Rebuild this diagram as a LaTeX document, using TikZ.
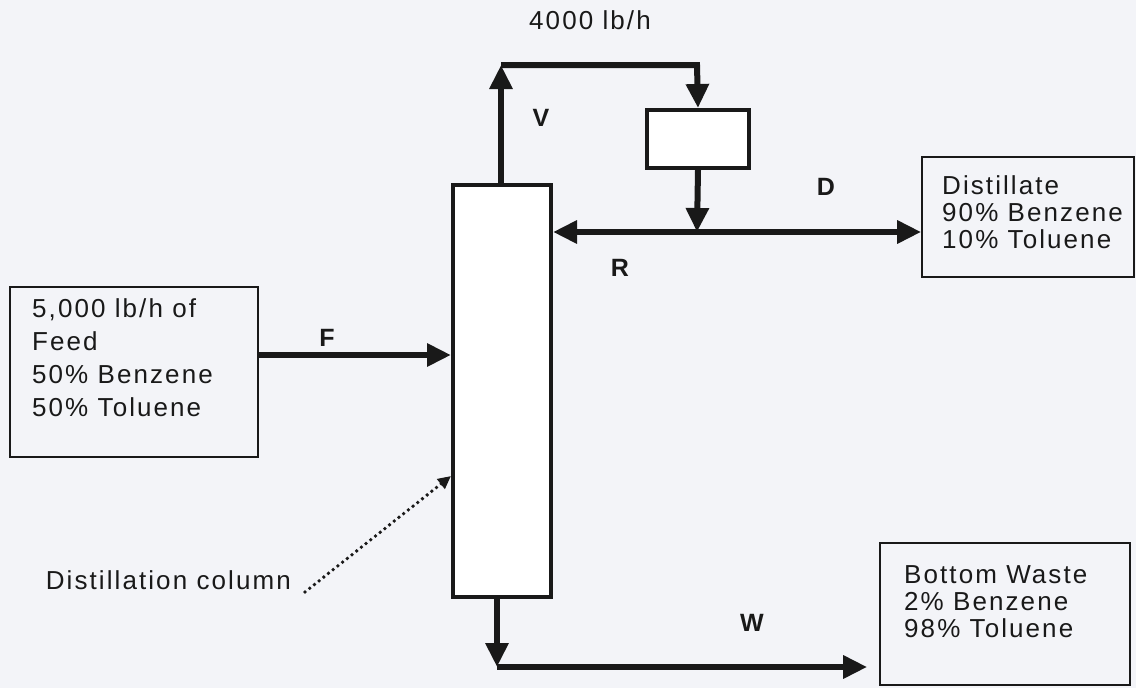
\documentclass[tikz,border=0pt]{standalone}
\usepackage{fontspec}
\setmainfont[LetterSpace=8]{Liberation Sans}
\usetikzlibrary{arrows.meta}
\definecolor{paper}{RGB}{243,244,248}
\definecolor{ink}{RGB}{25,25,25}
\tikzset{
  x=1pt,y=-1pt,
  flow/.style={draw=ink,line width=6pt,-{Triangle[length=24pt,width=22pt]}},
  unit/.style={draw=ink,line width=4pt,fill=white,inner sep=0pt},
  infobox/.style={draw=ink,line width=1.6pt,inner sep=0pt},
  txt/.style={text=ink,font=\fontsize{26}{27}\selectfont,align=left,inner sep=0pt},
  feedtxtstyle/.style={text=ink,font=\fontsize{26}{33}\selectfont,align=left,inner sep=0pt},
  lbl/.style={text=ink,font=\fontsize{25}{30}\selectfont\bfseries,inner sep=0pt},
  pointer/.style={draw=ink,line width=3.8pt,line cap=round,dash pattern=on 0pt off 6pt,-{Triangle[length=13pt,width=12pt]}}
}
\begin{document}
\begin{tikzpicture}
\useasboundingbox[fill=paper] (0,0) rectangle (1136,688);
% units
\node[unit,minimum width=98pt,minimum height=412pt] (col) at (502,391) {};
\node[unit,minimum width=102pt,minimum height=58pt] (cond) at (698,139) {};
% info boxes
\node[infobox,minimum width=248pt,minimum height=170pt] (feed) at (134,372) {};
\node[infobox,minimum width=212pt,minimum height=120pt] (dist) at (1028,217) {};
\node[infobox,minimum width=250pt,minimum height=142pt] (waste) at (1005,614) {};
\node[feedtxtstyle,anchor=north west] (feedtxt) at (32,298) {5,000 lb/h of\\Feed\\50\% Benzene\\50\% Toluene};
\node[txt,anchor=north west] (disttxt) at (942,175) {Distillate\\90\% Benzene\\10\% Toluene};
\node[txt,anchor=north west] (wastetxt) at (904,565) {Bottom Waste\\2\% Benzene\\98\% Toluene};
% coordinates
\coordinate (vtop) at (501,65);
\coordinate (vright) at (697,65);
\coordinate (jn) at (697,232);
\coordinate (bcorner) at (497,667);
% vapour & reflux
\draw[flow] (col.north -| vtop) -- (vtop);
\draw[flow] (vtop) -- (vright) -- (cond.north);
\draw[flow] (cond.south) -- (jn);
\draw[flow] (jn) -- (col.east |- jn);
\draw[flow] (jn) -- (dist.west |- jn);
% feed
\draw[flow] (feed.east |- 0,355) -- (col.west |- 0,355);
% bottoms
\draw[flow] (col.south -| bcorner) -- (bcorner);
\draw[flow,shorten >=12pt] (bcorner) -- (waste.west |- bcorner);
% labels
\node[txt] (rate) at (590,20) {4000 lb/h};
\node[lbl] (lv) at (541,118) {V};
\node[lbl] (ld) at (826,187) {D};
\node[lbl] (lr) at (620,268) {R};
\node[lbl] (lf) at (327,338) {F};
\node[lbl] (lw) at (752,623) {W};
\node[txt,anchor=east] (colname) at (291,580) {Distillation column};
\draw[pointer] (colname.east) ++(14,12) -- (col.west |- 0,476);
\end{tikzpicture}
\end{document}
